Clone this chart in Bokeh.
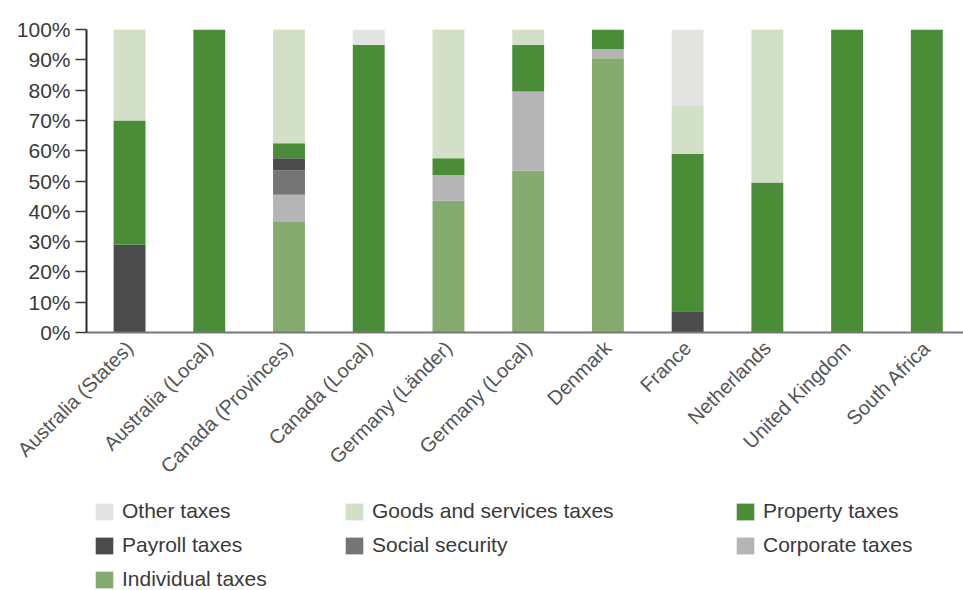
import math

from bokeh.embed import file_html
from bokeh.layouts import column
from bokeh.models import (ColumnDataSource, FixedTicker, Legend, LegendItem,
                          PrintfTickFormatter, Range1d)
from bokeh.plotting import figure
from bokeh.resources import INLINE

# Share of tax revenue by source (% of total), per jurisdiction
categories = [
    "Australia (States)", "Australia (Local)", "Canada (Provinces)", "Canada (Local)",
    "Germany (Länder)", "Germany (Local)", "Denmark", "France", "Netherlands",
    "United Kingdom", "South Africa",
]
individual = [0, 0, 36.5, 0, 43.5, 53.5, 90.5, 0, 0, 0, 0]
corporate = [0, 0, 9, 0, 8.5, 26, 3, 0, 0, 0, 0]
social_security = [0, 0, 8, 0, 0, 0, 0, 0, 0, 0, 0]
payroll = [29, 0, 4, 0, 0, 0, 0, 7, 0, 0, 0]
property_tax = [41, 100, 5, 95, 5.5, 15.5, 6.5, 52, 49.5, 100, 100]
goods_services = [30, 0, 37.5, 0, 42.5, 5, 0, 16, 50.5, 0, 0]
other = [0, 0, 0, 5, 0, 0, 0, 25, 0, 0, 0]

y_ticks = [0, 10, 20, 30, 40, 50, 60, 70, 80, 90, 100]

# stacking order, bottom to top
series = [
    ("Individual taxes", individual, "#86ab70"),
    ("Corporate taxes", corporate, "#b5b5b5"),
    ("Social security", social_security, "#757575"),
    ("Payroll taxes", payroll, "#4b4b4b"),
    ("Property taxes", property_tax, "#4a8c38"),
    ("Goods and services taxes", goods_services, "#d3e0c8"),
    ("Other taxes", other, "#e3e4e1"),
]

positions = list(range(len(categories)))
data = {"x": positions}
for name, vals, _ in series:
    data[name] = vals
source = ColumnDataSource(data)

names = [s[0] for s in series]
colors = [s[2] for s in series]

FONT = "Liberation Sans"
CHART_H = 490
LEGEND_H = 590 - CHART_H

p = figure(
    width=963, height=CHART_H,
    x_range=Range1d(-0.54, len(categories) - 0.54),
    y_range=Range1d(0, 100),
    output_backend="svg", toolbar_location=None,
    min_border_left=86, min_border_right=0,
    min_border_top=29, min_border_bottom=CHART_H - 332,
)
p.outline_line_color = None
p.xgrid.grid_line_color = None
p.ygrid.grid_line_color = None

p.vbar_stack(names, x="x", width=0.4, color=colors, line_color=None, source=source)

# y axis: percent ticks
p.yaxis.ticker = FixedTicker(ticks=y_ticks)
p.yaxis.formatter = PrintfTickFormatter(format="%d%%")
p.yaxis.axis_line_color = "#2a2a2a"
p.yaxis.axis_line_width = 2
p.yaxis.major_tick_out = 11
p.yaxis.major_tick_in = 0
p.yaxis.major_tick_line_color = "#3a3a3a"
p.yaxis.major_tick_line_width = 1.5
p.yaxis.minor_tick_line_color = None
p.yaxis.major_label_text_font = FONT
p.yaxis.major_label_text_font_size = "21px"
p.yaxis.major_label_text_color = "#3a3a3a"

# x axis: jurisdiction names, rotated
p.xaxis.ticker = FixedTicker(ticks=positions)
p.xaxis.major_label_overrides = {i: c for i, c in enumerate(categories)}
p.xaxis.major_label_orientation = math.pi / 4
p.xaxis.axis_line_color = "#777777"
p.xaxis.axis_line_width = 2
p.xaxis.major_tick_out = 0
p.xaxis.major_tick_in = 0
p.xaxis.minor_tick_line_color = None
p.xaxis.major_label_standoff = 12
p.xaxis.major_label_text_font = FONT
p.xaxis.major_label_text_font_size = "20px"
p.xaxis.major_label_text_color = "#555555"

# legend strip under the chart, laid out as three columns; the swatch
# renderers are flat (zero-height) bars kept outside the strip's view
lg = figure(
    width=963, height=LEGEND_H,
    x_range=Range1d(0, 1), y_range=Range1d(10, 11),
    x_axis_location=None, y_axis_location=None,
    output_backend="svg", toolbar_location=None,
    min_border=0,
)
lg.outline_line_color = None
lg.xgrid.grid_line_color = None
lg.ygrid.grid_line_color = None
swatch = {
    name: lg.vbar(x="x", top=0, bottom=0, width=0.4, color=c, line_color=None,
                  source=source)
    for name, _, c in series
}

columns = [
    (["Other taxes", "Payroll taxes", "Individual taxes"], 7),
    (["Goods and services taxes", "Social security"], 257),
    (["Property taxes", "Corporate taxes"], 648),
]
ITEM_H, GAP, TOP = 24, 10, 9
for labels, x0 in columns:
    n = len(labels)
    bottom = LEGEND_H - (TOP + n * ITEM_H + (n - 1) * GAP)
    leg = Legend(
        items=[LegendItem(label=l, renderers=[swatch[l]]) for l in labels],
        location=(x0, bottom),
        orientation="vertical",
        padding=0, margin=0, spacing=GAP,
        glyph_width=22, glyph_height=21, label_standoff=7,
        label_height=ITEM_H,
        label_text_font=FONT, label_text_font_size="21px",
        label_text_color="#3a3a3a",
        border_line_color=None, background_fill_alpha=0,
    )
    lg.add_layout(leg, "center")

page = column(p, lg, spacing=0)
open("out.html", "w").write(file_html(page, INLINE))
